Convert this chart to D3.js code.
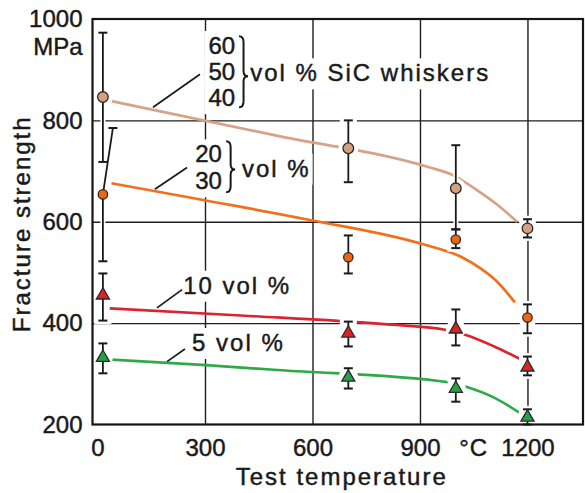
<!DOCTYPE html>
<html>
<head>
<meta charset="utf-8">
<script src="https://cdn.jsdelivr.net/npm/d3@7"></script>
<style>
  html, body { margin: 0; padding: 0; background: #fff; }
  svg { display: block; }
  text { font-family: "Liberation Sans", Arial, sans-serif; fill: #1a1a1a; stroke: #1a1a1a; stroke-width: 0.45px; }
</style>
</head>
<body>
<svg id="chart" width="585" height="493"></svg>
<script>
// ---------------- data ----------------
const xTicks = [0, 300, 600, 900, 1200];
const yTicks = [200, 400, 600, 800, 1000];
const xUnit = "°C";
const yUnit = "MPa";
const xTitle = "Test temperature";
const yTitle = "Fracture strength";

const temps = [15, 700, 1000, 1200];

// 40-60 vol % SiC whiskers
const tanValues = [846, 745, 666, 587];
const tanLow    = [718, 678, 585, 569];
const tanHigh   = [973, 800, 751, 605];
// 20-30 vol %
const orangeValues = [654, 530, 565, 411];
const orangeLow    = [522, 498, 548, 380];
const orangeHigh   = [785, 573, 585, 437];
const orangeTopT   = [43, 700, 1000, 1200];   // upper whisker end (drawn slanted at RT)
// 10 vol %
const redValues = [455, 380, 388, 313];
const redLow    = [405, 354, 356, 297];
const redHigh   = [498, 403, 427, 334];
// 5 vol %
const greenValues = [332, 293, 271, 214];
const greenLow    = [301, 271, 245, 200];
const greenHigh   = [360, 311, 291, 230];

// trend curves as drawn in the figure
const tanCurveT = [39, 500, 928, 989, 1060, 1115, 1171];
const tanCurveV = [838, 770, 707, 693, 662, 634, 600];
const orangeCurveT = [39, 303, 597, 906, 1017, 1067, 1109, 1165];
const orangeCurveV = [676, 642, 603, 556, 530, 509, 486, 441];
const redCurveT = [34, 400, 800, 970, 1026, 1107, 1183];
const redCurveV = [429, 415, 398, 387, 377, 354, 328];
const greenCurveT = [39, 303, 513, 981, 1026, 1107, 1189];
const greenCurveV = [328, 317, 307, 283, 275, 253, 218];

// annotation texts (data coordinates)
const labelTexts = ["60", "50", "40", "vol % SiC whiskers", "20", "30", "vol %", "10 vol %", "5 vol %"];
const labelT     = [384, 384, 384, 426, 347, 347, 403, 239, 264];
const labelV     = [931, 880, 828, 877, 717, 664, 689, 458, 345];
const labelAnchor = ["end", "end", "end", "start", "end", "end", "start", "start", "start"];
// braces
const braceT = [395, 359];
const braceTop = [966, 759];
const braceMid = [887, 703];
const braceBot = [826, 658];
// leader lines from curves to labels
const leaderT1 = [155, 160, 166, 194];
const leaderV1 = [826, 664, 430, 324];
const leaderT2 = [286, 250, 236, 244];
const leaderV2 = [891, 707, 466, 349];

// ---------------- drawing ----------------
const svg = d3.select("#chart");
const pLeft = 92.5, pRight = 583, pTop = 19, pBottom = 424.5;
const x = d3.scaleLinear().domain([-14, 1355]).range([pLeft, pRight]);
const y = d3.scaleLinear().domain([200, 1000]).range([pBottom, pTop]);

// grid
svg.append("g").attr("transform", `translate(0,${pBottom})`)
  .call(d3.axisBottom(x).tickValues([300, 600, 900, 1200]).tickSize(-(pBottom - pTop)).tickFormat(""))
  .call(g => g.select(".domain").remove())
  .call(g => g.selectAll("line").attr("stroke", "#1e1e1e").attr("stroke-width", 1.4));
svg.append("g").attr("transform", `translate(${pLeft},0)`)
  .call(d3.axisLeft(y).tickValues([400, 600, 800]).tickSize(-(pRight - pLeft)).tickFormat(""))
  .call(g => g.select(".domain").remove())
  .call(g => g.selectAll("line").attr("stroke", "#1e1e1e").attr("stroke-width", 1.4));

const bgLayer = svg.append("g");
const curveLayer = svg.append("g");
const leaderLayer = svg.append("g");
const haloLayer = svg.append("g");
const markLayer = svg.append("g");
const frameLayer = svg.append("g");
const textLayer = svg.append("g");

const labels = textLayer.selectAll("text.lab").data(labelTexts).join("text")
  .attr("class", "lab")
  .attr("x", (d, i) => x(labelT[i]))
  .attr("y", (d, i) => y(labelV[i]))
  .attr("text-anchor", (d, i) => labelAnchor[i])
  .attr("font-size", 24)
  .attr("letter-spacing", d => /^[0-9]+$/.test(d) ? 0 : 2)
  .text(d => d);
labels.each(function () {
  const b = this.getBBox();
  bgLayer.append("rect")
    .attr("x", b.x - 4).attr("y", b.y - 1)
    .attr("width", b.width + 6).attr("height", b.height + 4)
    .attr("fill", "#fff");
});

// braces
braceT.forEach((t, i) => {
  const x0 = x(t), w = 9, yt = y(braceTop[i]), ym = y(braceMid[i]), yb = y(braceBot[i]);
  const xm = x0 + w / 2;
  const p = `M${x0},${yt} Q${xm},${yt} ${xm},${yt + 6} L${xm},${ym - 5} Q${xm},${ym} ${x0 + w},${ym} ` +
            `Q${xm},${ym} ${xm},${ym + 5} L${xm},${yb - 6} Q${xm},${yb} ${x0},${yb}`;
  bgLayer.append("rect").attr("x", x0 - 2).attr("y", yt - 3).attr("width", w + 6).attr("height", yb - yt + 6).attr("fill", "#fff");
  textLayer.append("path").attr("d", p).attr("fill", "none").attr("stroke", "#1a1a1a").attr("stroke-width", 2);
});

// curves
const series = [
  { ct: tanCurveT, cv: tanCurveV, color: "#d7a285", vals: tanValues, lo: tanLow, hi: tanHigh, shape: "circle", fill: "#d69f80", r: 5.3 },
  { ct: orangeCurveT, cv: orangeCurveV, color: "#f2701c", vals: orangeValues, lo: orangeLow, hi: orangeHigh, topT: orangeTopT, shape: "circle", fill: "#f0650f", r: 4.7 },
  { ct: redCurveT, cv: redCurveV, color: "#da2430", vals: redValues, lo: redLow, hi: redHigh, shape: "triangle", fill: "#dc2128" },
  { ct: greenCurveT, cv: greenCurveV, color: "#2eaa48", vals: greenValues, lo: greenLow, hi: greenHigh, shape: "triangle", fill: "#25a245" }
];
const line = d3.line().x(d => x(d[0])).y(d => y(d[1])).curve(d3.curveMonotoneX);
series.forEach(s => {
  curveLayer.append("path")
    .attr("d", line(s.ct.map((t, i) => [t, s.cv[i]])))
    .attr("fill", "none").attr("stroke", s.color).attr("stroke-width", 2.7).attr("stroke-linecap", "butt");
});

// leaders
leaderT1.forEach((t, i) => {
  leaderLayer.append("line")
    .attr("x1", x(t)).attr("y1", y(leaderV1[i]))
    .attr("x2", x(leaderT2[i])).attr("y2", y(leaderV2[i]))
    .attr("stroke", "#1a1a1a").attr("stroke-width", 1.7);
});

// error bars + markers
const capW = 9;
series.forEach(s => {
  temps.forEach((t, i) => {
    const cx = x(t), cy = y(s.vals[i]);
    const topX = s.topT ? x(s.topT[i]) : cx;
    const yHi = y(s.hi[i]), yLo = y(s.lo[i]);
    haloLayer.append("line").attr("x1", cx).attr("y1", cy).attr("x2", topX).attr("y2", yHi)
      .attr("stroke", "#fff").attr("stroke-width", 5);
    haloLayer.append("line").attr("x1", cx).attr("y1", cy).attr("x2", cx).attr("y2", yLo)
      .attr("stroke", "#fff").attr("stroke-width", 5);
    [[topX, yHi], [cx, yLo]].forEach(([xx, yy]) => {
      haloLayer.append("line").attr("x1", xx - capW / 2 - 4).attr("x2", xx + capW / 2 + 4)
        .attr("y1", yy).attr("y2", yy).attr("stroke", "#fff").attr("stroke-width", 7);
    });
    haloLayer.append("circle").attr("cx", cx).attr("cy", cy).attr("r", 10).attr("fill", "#fff");

    markLayer.append("line").attr("x1", cx).attr("y1", cy).attr("x2", topX).attr("y2", yHi)
      .attr("stroke", "#1a1a1a").attr("stroke-width", 1.8);
    markLayer.append("line").attr("x1", cx).attr("y1", cy).attr("x2", cx).attr("y2", yLo)
      .attr("stroke", "#1a1a1a").attr("stroke-width", 1.8);
    [[topX, yHi], [cx, yLo]].forEach(([xx, yy]) => {
      markLayer.append("line").attr("x1", xx - capW / 2).attr("x2", xx + capW / 2)
        .attr("y1", yy).attr("y2", yy).attr("stroke", "#1a1a1a").attr("stroke-width", 2);
    });
    if (s.shape === "circle") {
      markLayer.append("circle").attr("cx", cx).attr("cy", cy).attr("r", s.r)
        .attr("fill", s.fill).attr("stroke", "#2a2a2a").attr("stroke-width", 1.3);
    } else {
      const sym = d3.symbol().type(d3.symbolTriangle).size(74);
      markLayer.append("path").attr("d", sym()).attr("transform", `translate(${cx},${cy})`)
        .attr("fill", s.fill).attr("stroke", "#2a2a2a").attr("stroke-width", 1.3);
    }
  });
});

// frame
frameLayer.append("rect").attr("x", pLeft).attr("y", pTop)
  .attr("width", pRight - pLeft).attr("height", pBottom - pTop)
  .attr("fill", "none").attr("stroke", "#151515").attr("stroke-width", 2.2);

// tick labels via axes
const xAxisG = textLayer.append("g").attr("transform", `translate(0,${pBottom})`)
  .call(d3.axisBottom(x).tickValues(xTicks).tickSize(0).tickFormat(d3.format("d")));
xAxisG.select(".domain").remove();
xAxisG.selectAll("text").attr("y", 31).attr("dy", null).attr("font-size", 24)
  .attr("font-family", "Liberation Sans, Arial, sans-serif").attr("fill", "#1a1a1a");

const yAxisG = textLayer.append("g").attr("transform", `translate(${pLeft},0)`)
  .call(d3.axisLeft(y).tickValues(yTicks).tickSize(0).tickPadding(10).tickFormat(d3.format("d")));
yAxisG.select(".domain").remove();
yAxisG.selectAll("text").attr("font-size", 24)
  .attr("font-family", "Liberation Sans, Arial, sans-serif").attr("fill", "#1a1a1a");

// units
textLayer.append("text").attr("x", pLeft - 10).attr("y", y(1000) + 36)
  .attr("text-anchor", "end").attr("font-size", 24).text(yUnit);
textLayer.append("text").attr("x", x(1050)).attr("y", pBottom + 31)
  .attr("text-anchor", "middle").attr("font-size", 24).attr("letter-spacing", 1).text(xUnit);

// axis titles
textLayer.append("text").attr("x", (pLeft + pRight) / 2 + 4).attr("y", 485)
  .attr("text-anchor", "middle").attr("font-size", 24).attr("letter-spacing", 2).text(xTitle);
textLayer.append("text").attr("transform", `translate(30,${(pTop + pBottom) / 2 + 2}) rotate(-90)`)
  .attr("text-anchor", "middle").attr("font-size", 24).attr("letter-spacing", 2).text(yTitle);
</script>
</body>
</html>
